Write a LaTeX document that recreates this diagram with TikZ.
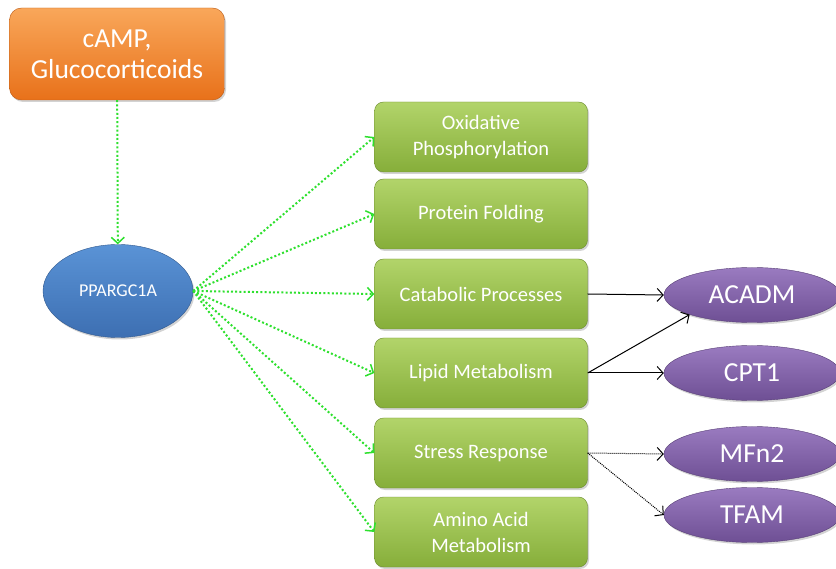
\documentclass[tikz,border=0pt]{standalone}
\usepackage{fontspec}
\setmainfont{Carlito}
\usetikzlibrary{shapes.geometric,shadows,arrows.meta}

\definecolor{orangetop}{HTML}{F9A75A}
\definecolor{orangebot}{HTML}{E8711A}
\definecolor{greentop}{HTML}{B2D46A}
\definecolor{greenbot}{HTML}{86AE3A}
\definecolor{bluetop}{HTML}{5A93D6}
\definecolor{bluebot}{HTML}{3D6FB2}
\definecolor{purpletop}{HTML}{9A7BC0}
\definecolor{purplebot}{HTML}{6E4F94}
\definecolor{dotgreen}{HTML}{2EE02E}

\begin{document}
\begin{tikzpicture}[x=1pt,y=-1pt,
    shade/.style={drop shadow={opacity=0.35,shadow xshift=1.5pt,shadow yshift=-2pt}},
    signal/.style={shade,rounded corners=12pt,draw=orangebot!80!black,
      top color=orangetop,bottom color=orangebot,text=white,align=center,
      minimum width=215pt,minimum height=92pt,inner sep=0pt,
      font=\fontsize{27.5}{31}\selectfont},
    process/.style={shade,rounded corners=9pt,draw=greenbot!80!black,
      top color=greentop,bottom color=greenbot,text=white,align=center,
      minimum width=213pt,minimum height=70pt,inner sep=0pt,
      font=\fontsize{20.5}{26}\selectfont},
    gene/.style={shade,ellipse,draw=bluebot!80!black,
      top color=bluetop,bottom color=bluebot,text=white,
      minimum width=150pt,minimum height=93pt,inner sep=0pt,
      font=\fontsize{18}{20}\selectfont},
    target/.style={shade,ellipse,draw=purplebot!80!black,
      top color=purpletop,bottom color=purplebot,text=white,
      minimum width=176pt,minimum height=55pt,inner sep=0pt,
      font=\fontsize{27.5}{30}\selectfont},
    induce/.style={->,dotgreen,line width=2pt,dash pattern=on 2pt off 2.2pt,
      >={Straight Barb[length=6pt,width=13pt,line width=1.5pt]}},
    link/.style={->,black,line width=1pt,
      >={Straight Barb[length=6pt,width=13pt]}},
    weak/.style={->,black,line width=1pt,dash pattern=on 1pt off 1pt,
      >={Straight Barb[length=6pt,width=13pt]}}]
  \useasboundingbox (0,0) rectangle (836,569);

  \node[signal] (camp) at (117,54) {cAMP,\\Glucocorticoids};
  \node[gene] (ppar) at (118,291) {PPARGC1A};

  \node[process] (oxphos) at (481,137) {Oxidative\\Phosphorylation};
  \node[process] (fold) at (481,214) {Protein Folding};
  \node[process] (catab) at (481,294) {Catabolic Processes};
  \node[process] (lipid) at (481,373) {Lipid Metabolism};
  \node[process] (stress) at (481,453) {Stress Response};
  \node[process] (amino) at (481,532) {Amino Acid\\Metabolism};

  \node[target] (acadm) at (752,295) {ACADM};
  \node[target] (cpt) at (752,373) {CPT1};
  \node[target] (mfn) at (752,454) {MFn2};
  \node[target] (tfam) at (752,515) {TFAM};

  \draw[induce] (camp) -- (ppar);
  \foreach \t in {oxphos,fold,catab,lipid,stress,amino}
    \draw[induce] (ppar.east) -- (\t.west);

  \draw[link] (catab.east) -- (acadm.west);
  \draw[link] (lipid.east) -- (acadm.south west);
  \draw[link] (lipid.east) -- (cpt.west);
  \draw[weak] (stress.east) -- (mfn.west);
  \draw[weak] (stress.east) -- (tfam.west);
\end{tikzpicture}
\end{document}
